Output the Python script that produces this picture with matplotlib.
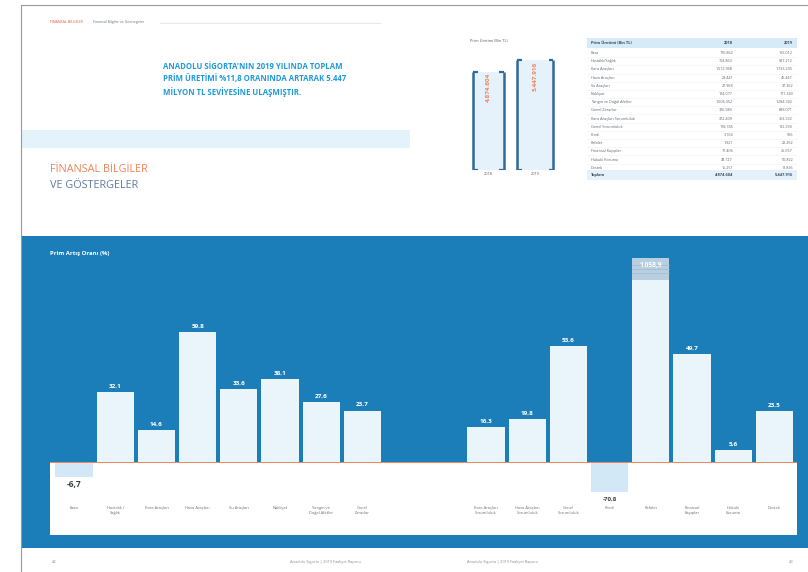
"""Anadolu Sigorta faaliyet raporu: prim artış oranları sayfası."""

import matplotlib

matplotlib.use("Agg")
import matplotlib.pyplot as plt
import numpy as np
from matplotlib.patches import Rectangle

plt.rcParams["font.family"] = ["Open Sans", "DejaVu Sans"]

# --- data -----------------------------------------------------------------
branches = [
    "Kaza", "Hastalık /\nSağlık", "Kara Araçları", "Hava Araçları",
    "Su Araçları", "Nakliyat", "Yangın ve\nDoğal Afetler", "Genel\nZararlar",
    "Kara Araçları\nSorumluluk", "Hava Araçları\nSorumluluk", "Genel\nSorumluluk",
    "Kredi", "Kefalet", "Finansal\nKayıplar", "Hukuki\nKoruma", "Destek",
]
growth = [
    -6.7, 32.1, 14.6, 59.8, 33.6, 38.1, 27.6, 23.7,
    16.3, 19.8, 53.6, -70.8, 1058.9, 49.7, 5.6, 23.5,
]
slots = [0, 1, 2, 3, 4, 5, 6, 7, 10, 11, 12, 13, 14, 15, 16, 17]

years = ["2018", "2019"]
total_premium = [4874604, 5447916]

table_rows = [
    "Kaza", "Hastalık/Sağlık", "Kara Araçları", "Hava Araçları", "Su Araçları",
    "Nakliyat", "Yangın ve Doğal Afetler", "Genel Zararlar",
    "Kara Araçları Sorumluluk", "Genel Sorumluluk", "Kredi", "Kefalet",
    "Finansal Kayıplar", "Hukuki Koruma", "Destek",
]
table_2018 = [
    176862, 754863, 1512968, 28441, 27968, 124077, 1006352, 726980,
    312409, 118745, 3104, 1921, 17406, 48127, 15251,
]
table_2019 = [
    165012, 997212, 1733205, 45447, 37362, 171349, 1284392, 899071,
    363332, 182390, 906, 22262, 26057, 50822, 18836,
]

# --- colours --------------------------------------------------------------
BLUE = "#1b7eb8"
BAR = "#e9f4fb"
NEG = "#d3e8f6"
ORANGE = "#f0845a"
GREY = "#8a8f96"
HEAD_BLUE = "#1d9ad8"


def fmt_tr(v, dec=1):
    s = f"{v:,.{dec}f}"
    return s.replace(",", "#").replace(".", ",").replace("#", ".")


fig = plt.figure(figsize=(8.08, 5.72), dpi=100)
fig.patch.set_facecolor("white")

# background axes in pixel coordinates
bg = fig.add_axes([0, 0, 1, 1])
bg.set_xlim(0, 808)
bg.set_ylim(572, 0)
bg.axis("off")

# page outline
bg.plot([21, 21], [5, 572], color="#9a9a9a", lw=0.8)
bg.plot([21, 808], [5, 5], color="#9a9a9a", lw=0.8)

# header
bg.text(50, 22, "FİNANSAL BİLGİLER", fontsize=2.6, color="#e4573d", va="center")
bg.text(93, 22, "Finansal Bilgiler ve Göstergeler", fontsize=2.6, color="#6f7780",
        va="center")
bg.plot([160, 380], [23, 23], color="#e6e8ea", lw=0.8)

bg.text(163, 62,
        "ANADOLU SİGORTA'NIN 2019 YILINDA TOPLAM\n"
        "PRİM ÜRETİMİ %11,8 ORANINDA ARTARAK 5.447\n"
        "MİLYON TL SEVİYESİNE ULAŞMIŞTIR.",
        fontsize=5.6, fontweight="bold", color=HEAD_BLUE, va="top",
        linespacing=1.45)

bg.add_patch(Rectangle((21, 130), 389, 18, color="#e4f2fb", lw=0))
bg.text(50, 170, "FİNANSAL BİLGİLER", fontsize=7.8, color=ORANGE, va="center")
bg.text(50, 186, "VE GÖSTERGELER", fontsize=7.8, color="#5f7ba0", va="center")

# small premium chart with brackets
bg.text(470, 41, "Prim Üretimi (Bin TL)", fontsize=2.8, color="#555b63",
        va="center")
ax_p = fig.add_axes([465 / 808, 1 - 170 / 572, 90 / 808, 115 / 572])
ax_p.set_xlim(-0.6, 1.7)
ax_p.set_ylim(0, total_premium[1] * 115 / 110)
ax_p.axis("off")
px = [0, 1.2]
pw = [0.8, 0.92]
ax_p.bar(px, total_premium, width=pw, color="#e6f2fb", zorder=1)
for x, w, v, yr in zip(px, pw, total_premium, years):
    for side in (-1, 1):
        ex = x + side * w / 2
        ax_p.plot([ex, ex], [0, v], color="#2f6a98", lw=1.8, zorder=2,
                  solid_capstyle="butt")
        ax_p.plot([ex, ex - side * 0.12], [v, v], color="#2f6a98", lw=1.6,
                  zorder=2, solid_capstyle="butt")
        ax_p.plot([ex, ex - side * 0.12], [0, 0], color="#2f6a98", lw=1.6,
                  zorder=2, solid_capstyle="butt")
    ax_p.text(x, v * 0.985, fmt_tr(v, 0), rotation=90, ha="center", va="top",
              fontsize=4.6, fontweight="bold", color=ORANGE, zorder=3)
    ax_p.text(x, -v * 0.02, yr, ha="center", va="top", fontsize=2.8,
              color="#555b63", clip_on=False)

# table
tx0, tx1 = 587, 797
bg.add_patch(Rectangle((tx0, 38), tx1 - tx0, 10, color="#d7eaf7", lw=0))
bg.text(tx0 + 4, 43, "Prim Üretimi (Bin TL)", fontsize=2.9, fontweight="bold",
        color="#3a4b5c", va="center")
bg.text(733, 43, "2018", fontsize=2.9, fontweight="bold", color="#3a4b5c",
        va="center", ha="right")
bg.text(793, 43, "2019", fontsize=2.9, fontweight="bold", color="#3a4b5c",
        va="center", ha="right")
for i, (name, a, b) in enumerate(zip(table_rows, table_2018, table_2019)):
    y = 53 + i * 8.2
    bg.text(tx0 + 4, y, name, fontsize=2.7, color="#5c636b", va="center")
    bg.text(733, y, fmt_tr(a, 0), fontsize=2.7, color="#5c636b", va="center",
            ha="right")
    bg.text(793, y, fmt_tr(b, 0), fontsize=2.7, color="#5c636b", va="center",
            ha="right")
    bg.plot([tx0, tx1], [y + 4.1, y + 4.1], color="#eef1f3", lw=0.4)
bg.add_patch(Rectangle((tx0, 170), tx1 - tx0, 10, color="#e4f1fa", lw=0))
bg.text(tx0 + 4, 175, "Toplam", fontsize=2.9, fontweight="bold",
        color="#3a4b5c", va="center")
bg.text(733, 175, fmt_tr(total_premium[0], 0), fontsize=2.9, fontweight="bold",
        color="#3a4b5c", va="center", ha="right")
bg.text(793, 175, fmt_tr(total_premium[1], 0), fontsize=2.9, fontweight="bold",
        color="#3a4b5c", va="center", ha="right")

# blue band and white base strip
bg.add_patch(Rectangle((21, 236), 787, 312, color=BLUE, lw=0))
bg.add_patch(Rectangle((50, 462), 747, 73, color="white", lw=0))
bg.text(50, 253, "Prim Artış Oranı (%)", fontsize=4.3, fontweight="bold",
        color="white", va="center")

# footer
bg.text(52, 562, "42", fontsize=3, color=GREY, va="center")
bg.text(290, 562, "Anadolu Sigorta | 2019 Faaliyet Raporu", fontsize=2.8,
        color=GREY, va="center")
bg.text(467, 562, "Anadolu Sigorta | 2019 Faaliyet Raporu", fontsize=2.8,
        color=GREY, va="center")
bg.text(789, 562, "43", fontsize=3, color=GREY, va="center")

# --- main bar chart -------------------------------------------------------
PX_PER_UNIT = 2.17
SLOT_PX = 41.2
X0_PX = 74
ax = fig.add_axes([21 / 808, 1 - 535 / 572, (797 - 21) / 808, (535 - 240) / 572])
ax.set_xlim((21 - X0_PX) / SLOT_PX, (797 - X0_PX) / SLOT_PX)
ax.set_ylim(-(535 - 462) / PX_PER_UNIT, (462 - 240) / PX_PER_UNIT)
ax.axis("off")
ax.patch.set_alpha(0)

vals = np.array(growth)
cap_top, cap_bottom = 94.0, -14.0
shown = np.clip(vals, cap_bottom, cap_top)
xs = np.array(slots, dtype=float)

pos = vals > 0
ax.bar(xs[pos], shown[pos], width=0.9, color=BAR, zorder=2)
ax.bar(xs[~pos], shown[~pos], width=0.9, color=NEG, zorder=2)

# axis break on the clipped bar
for x, v, s in zip(xs, vals, shown):
    if v > cap_top:
        ax.bar(x, 10, bottom=s - 10, width=0.9, color="#b7cfe0", zorder=3)
        for yy in (s - 7, s - 5, s - 3):
            ax.plot([x - 0.45, x + 0.45], [yy, yy], color="#9fb9cd", lw=0.5,
                    zorder=4)

ax.axhline(0, xmin=(50 - 21) / 776, xmax=1, color=ORANGE, lw=0.7, zorder=5)

for x, v, s in zip(xs, vals, shown):
    label = fmt_tr(v)
    if v > cap_top:
        ax.text(x, s - 2, label, ha="center", va="top", fontsize=4.8,
                fontweight="bold", color="white", zorder=6)
    elif v > 0:
        ax.text(x, s + 1.5, label, ha="center", va="bottom", fontsize=4.6,
                fontweight="bold", color="white", zorder=6)
    elif v > -10:
        ax.text(x, -10.5, label, ha="center", va="center", fontsize=6,
                fontweight="bold", color="#3b4048", zorder=6)
    else:
        ax.text(x, s - 2, label, ha="center", va="top", fontsize=4.4,
                fontweight="bold", color="#3b4048", zorder=6)

for x, name in zip(xs, branches):
    ax.text(x, -20.5, name, ha="center", va="top", fontsize=2.9,
            color="#6b7178", linespacing=1.3, zorder=6)

fig.savefig("out.png", dpi=100)
